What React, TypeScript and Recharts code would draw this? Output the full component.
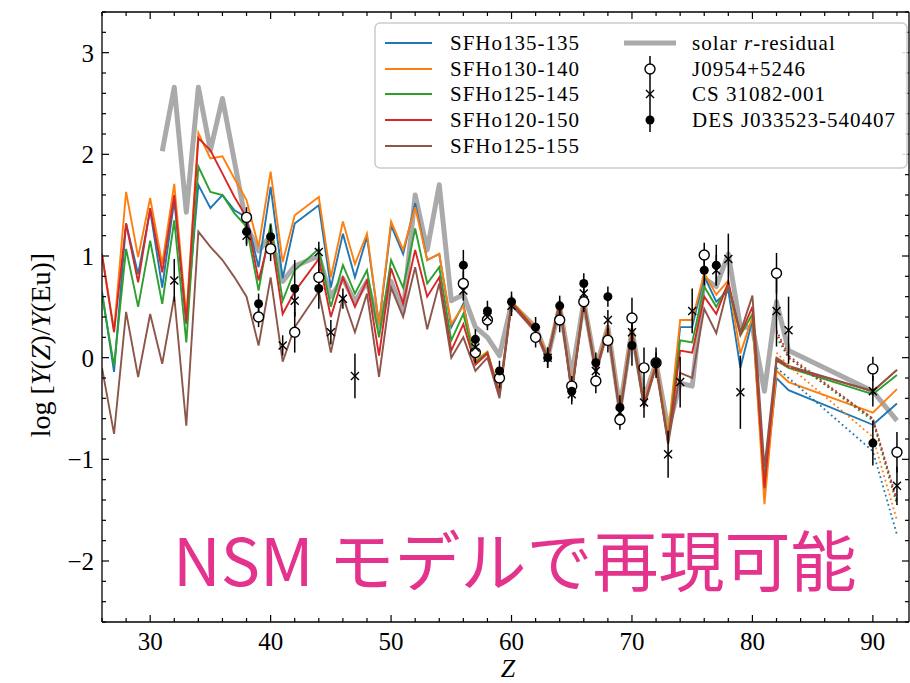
import { ComposedChart, ErrorBar, Line, Scatter, XAxis, YAxis } from "recharts";

const SERIF = "'Liberation Serif', 'DejaVu Serif', serif";
const CJK = "'Noto Sans CJK JP', 'Noto Sans', sans-serif";

// atomic number grid (Tc 43, Pm 61 and 84-89, 91 have no model points)
const Z = [
  26, 27, 28, 29, 30, 31, 32, 33, 34, 35, 36, 37, 38, 39, 40, 41, 42,
  44, 45, 46, 47, 48, 49, 50, 51, 52, 53, 54, 55, 56, 57, 58, 59, 60,
  62, 63, 64, 65, 66, 67, 68, 69, 70, 71, 72, 73, 74, 75, 76, 77, 78, 79, 80, 81, 82, 83,
  90, 92,
];

const SFHO135_135 = [
  0.65, -0.14, 1.32, 0.82, 1.45, 0.69, 1.55, 0.33, 1.7, 1.47, 1.6, 1.45, 1.38, 0.89, 1.68, 0.78, 1.32,
  1.5, 0.69, 1.22, 0.79, 1.19, 0.33, 1.3, 1.02, 1.52, 0.96, 1.02, 0.3, 0.53, -0.05, 0.05, -0.35, 0.54,
  0.28, 0.0, 0.55, -0.33, 0.56, -0.13, 0.3, -0.54, 0.27, -0.46, -0.06, -0.8, 0.3, 0.3, 0.8, 0.55, 0.66, -0.1, 0.37, -1.3, -0.2, -0.32,
  -0.66, -0.45,
];
const SFHO130_140 = [
  1.0, 0.27, 1.63, 0.99, 1.57, 0.92, 1.71, 0.4, 2.21, 1.96, 1.98, 1.76, 1.55, 1.09, 1.83, 0.94, 1.4,
  1.58, 0.79, 1.34, 0.92, 1.22, 0.33, 1.34, 1.06, 1.48, 0.96, 1.02, 0.33, 0.51, -0.03, 0.06, -0.34, 0.56,
  0.29, 0.01, 0.57, -0.31, 0.58, -0.12, 0.32, -0.52, 0.29, -0.44, -0.04, -0.76, 0.37, 0.37, 0.83, 0.62, 0.76, 0.04, 0.4, -1.44, -0.13, -0.24,
  -0.54, -0.31,
];
const SFHO125_145 = [
  0.62, -0.08, 1.07, 0.5, 1.15, 0.53, 1.35, 0.15, 1.88, 1.63, 1.6, 1.42, 1.29, 0.66, 1.32, 0.56, 0.86,
  1.07, 0.5, 0.91, 0.63, 0.86, 0.2, 0.96, 0.69, 1.27, 0.73, 0.89, 0.17, 0.43, -0.05, 0.05, -0.36, 0.55,
  0.27, 0.0, 0.54, -0.34, 0.55, -0.14, 0.29, -0.55, 0.26, -0.47, -0.07, -0.81, 0.17, 0.15, 0.7, 0.5, 0.72, 0.22, 0.43, -1.21, -0.03, -0.1,
  -0.36, -0.17,
];
const SFHO120_150 = [
  1.02, 0.25, 1.32, 0.74, 1.47, 0.84, 1.6, 0.35, 2.16, 2.04, 1.81, 1.58, 1.38, 0.76, 1.22, 0.43, 0.65,
  0.97, 0.4, 0.79, 0.5, 0.76, 0.02, 0.88, 0.53, 1.06, 0.6, 0.79, 0.07, 0.33, -0.07, 0.04, -0.37, 0.54,
  0.27, -0.01, 0.54, -0.34, 0.55, -0.14, 0.29, -0.55, 0.26, -0.47, -0.07, -0.84, 0.07, 0.05, 0.6, 0.43, 0.74, 0.23, 0.5, -1.28, -0.02, -0.09,
  -0.33, -0.12,
];
const SFHO125_155 = [
  -0.1, -0.75, 0.45, -0.19, 0.43, -0.06, 0.6, -0.67, 1.24, 1.09, 0.96, 0.79, 0.6, 0.12, 0.79, -0.04, 0.3,
  0.65, 0.05, 0.6, 0.25, 0.63, -0.19, 0.69, 0.4, 0.89, 0.28, 0.73, 0.0, 0.2, -0.13, 0.0, -0.4, 0.52,
  0.25, -0.03, 0.52, -0.36, 0.53, -0.16, 0.27, -0.57, 0.24, -0.49, -0.09, -0.85, -0.15, -0.2, 0.48, 0.24, 0.71, 0.25, 0.61, -1.08, 0.0, -0.08,
  -0.33, -0.12,
];
const SOLAR = [
  null, null, null, null, null, 2.03, 2.66, 1.43, 2.66, 2.04, 2.55, 1.93, 1.3, 1.05, 1.2, 0.75, 0.9,
  1.0, 0.6, 0.78, 0.55, 0.75, 0.3, 0.75, 0.45, 1.6, 1.06, 1.7, 0.56, 0.62, 0.3, 0.2, 0.02, 0.53,
  0.3, 0.0, 0.5, -0.18, 0.55, -0.1, 0.3, -0.5, 0.27, -0.4, -0.05, -0.7, -0.25, -0.28, 0.78, 0.7, 1.02, 0.3, 0.3, -0.33, 0.55, 0.07,
  -0.33, -0.62,
];

// dotted actinide variants
const DOT_Z = [82, 83, 90, 92];
const DOT135_135 = [-0.1, -0.2, -0.92, -1.74];
const DOT130_140 = [0.05, -0.08, -0.78, -1.6];
const DOT125_145 = [0.2, 0.0, -0.62, -1.45];
const DOT120_150 = [0.25, 0.0, -0.6, -1.42];
const DOT125_155 = [0.27, 0.02, -0.6, -1.4];

const J0954_Z = [38, 39, 40, 42, 44, 56, 57, 58, 59, 62, 64, 65, 66, 67, 68, 69, 70, 71, 72, 76, 82, 90, 92];
const J0954_V = [1.38, 0.4, 1.07, 0.25, 0.79, 0.73, 0.05, 0.37, -0.2, 0.2, 0.37, -0.28, 0.55, -0.23, 0.17, -0.61, 0.39, -0.1, -0.05, 1.01, 0.83, -0.11, -0.93];
const J0954_E = [0.1, 0.1, 0.12, 0.2, 0.15, 0.12, 0.1, 0.1, 0.1, 0.1, 0.12, 0.1, 0.1, 0.12, 0.12, 0.1, 0.2, 0.2, 0.15, 0.12, 0.2, 0.12, 0.2];

const CS_Z = [32, 38, 41, 42, 44, 45, 46, 47, 56, 57, 58, 60, 63, 65, 66, 67, 68, 69, 70, 71, 73, 74, 75, 77, 78, 79, 82, 83, 90, 92];
const CS_V = [0.76, 1.2, 0.12, 0.56, 1.04, 0.25, 0.58, -0.18, 0.66, 0.1, 0.4, 0.51, 0.0, -0.36, 0.63, -0.13, 0.37, -0.54, 0.25, -0.44, -0.95, -0.24, 0.46, 0.86, 0.97, -0.34, 0.46, 0.27, -0.33, -1.26];
const CS_E = [0.21, 0.1, 0.1, 0.15, 0.1, 0.12, 0.1, 0.22, 0.1, 0.1, 0.1, 0.1, 0.1, 0.1, 0.1, 0.1, 0.1, 0.1, 0.1, 0.15, 0.23, 0.25, 0.22, 0.15, 0.25, 0.36, 0.35, 0.33, 0.15, 0.19];

const DES_Z = [38, 39, 40, 42, 44, 56, 57, 58, 59, 60, 62, 63, 64, 65, 66, 67, 68, 69, 70, 72, 76, 77, 90];
const DES_V = [1.24, 0.53, 1.19, 0.68, 0.68, 0.91, 0.18, 0.46, -0.13, 0.55, 0.3, 0.0, 0.51, -0.33, 0.73, -0.05, 0.6, -0.49, 0.12, -0.05, 0.86, 0.91, -0.84];
const DES_E = [0.12, 0.1, 0.12, 0.28, 0.2, 0.15, 0.1, 0.1, 0.1, 0.1, 0.1, 0.1, 0.1, 0.1, 0.1, 0.1, 0.1, 0.12, 0.2, 0.1, 0.15, 0.2, 0.22];

const X_TICKS = [26, 28, 30, 32, 34, 36, 38, 40, 42, 44, 46, 48, 50, 52, 54, 56, 58, 60, 62, 64, 66, 68, 70, 72, 74, 76, 78, 80, 82, 84, 86, 88, 90, 92];
const Y_TICKS = [
  -2.6, -2.4, -2.2, -2, -1.8, -1.6, -1.4, -1.2, -1, -0.8, -0.6, -0.4, -0.2, 0, 0.2, 0.4, 0.6, 0.8,
  1, 1.2, 1.4, 1.6, 1.8, 2, 2.2, 2.4, 2.6, 2.8, 3, 3.2, 3.4,
];

const MODELS = [
  { key: "m1", name: "SFHo135-135", color: "#1f77b4", values: SFHO135_135, dots: DOT135_135 },
  { key: "m2", name: "SFHo130-140", color: "#ff7f0e", values: SFHO130_140, dots: DOT130_140 },
  { key: "m3", name: "SFHo125-145", color: "#2ca02c", values: SFHO125_145, dots: DOT125_145 },
  { key: "m4", name: "SFHo120-150", color: "#d62728", values: SFHO120_150, dots: DOT120_150 },
  { key: "m5", name: "SFHo125-155", color: "#8c564b", values: SFHO125_155, dots: DOT125_155 },
];

const table = Z.map((z, i) => {
  const row: Record<string, number | null> = { z, solar: SOLAR[i] };
  const d = DOT_Z.indexOf(z);
  MODELS.forEach((m) => {
    row[m.key] = m.values[i];
    row[m.key + "d"] = d >= 0 ? m.dots[d] : null;
  });
  return row;
});

const pts = (zs: number[], vs: number[], es: number[]) => zs.map((z, i) => ({ z, v: vs[i], e: es[i] }));

const isInt = (v: number) => Math.abs(v - Math.round(v)) < 1e-6;
const fmt = (v: number) => (v < 0 ? "\u2212" + Math.abs(v) : String(v));

// ticks point inward, like matplotlib's direction="in"
function BottomTick(props: any) {
  const { x, y, payload } = props;
  const major = payload.value % 10 === 0;
  return (
    <g>
      <line x1={x} x2={x} y1={y} y2={y - (major ? 7 : 4)} stroke="#000" strokeWidth={1.2} />
      {major && (
        <text x={x} y={y + 28} textAnchor="middle" fontSize={25} fontFamily={SERIF} fill="#000">
          {payload.value}
        </text>
      )}
    </g>
  );
}

function TopTick(props: any) {
  const { x, y, payload } = props;
  const major = payload.value % 10 === 0;
  return <line x1={x} x2={x} y1={y} y2={y + (major ? 7 : 4)} stroke="#000" strokeWidth={1.2} />;
}

function LeftTick(props: any) {
  const { x, y, payload } = props;
  const major = isInt(payload.value);
  return (
    <g>
      <line x1={x} x2={x + (major ? 7 : 4)} y1={y} y2={y} stroke="#000" strokeWidth={1.2} />
      {major && (
        <text x={x - 8} y={y + 9} textAnchor="end" fontSize={25} fontFamily={SERIF} fill="#000">
          {fmt(payload.value)}
        </text>
      )}
    </g>
  );
}

function RightTick(props: any) {
  const { x, y, payload } = props;
  const major = isInt(payload.value);
  return <line x1={x} x2={x - (major ? 7 : 4)} y1={y} y2={y} stroke="#000" strokeWidth={1.2} />;
}

const OpenMark = (p: any) => <circle cx={p.cx} cy={p.cy} r={5} fill="#fff" stroke="#000" strokeWidth={1.4} />;
const FilledMark = (p: any) => <circle cx={p.cx} cy={p.cy} r={4.5} fill="#000" />;
const CrossMark = (p: any) => (
  <path
    d={`M${p.cx - 4},${p.cy - 4}L${p.cx + 4},${p.cy + 4}M${p.cx - 4},${p.cy + 4}L${p.cx + 4},${p.cy - 4}`}
    stroke="#000"
    strokeWidth={1.4}
    fill="none"
  />
);

const axisLine = { stroke: "#000", strokeWidth: 1.3 };
const ROWS = [43, 69, 94, 120, 146];

export default function App() {
  return (
    <div style={{ position: "absolute", left: 0, top: 0, width: 910, height: 683, background: "#fff" }}>
      <ComposedChart width={910} height={683} data={table} margin={{ top: 2, right: 0, bottom: 31, left: 42 }}>
        <XAxis
          dataKey="z"
          type="number"
          domain={[26, 93]}
          allowDataOverflow
          ticks={X_TICKS}
          interval={0}
          height={30}
          tickSize={0}
          tickMargin={0}
          tickLine={false}
          axisLine={axisLine}
          tick={<BottomTick />}
        />
        <XAxis
          xAxisId="top"
          orientation="top"
          dataKey="z"
          type="number"
          domain={[26, 93]}
          allowDataOverflow
          ticks={X_TICKS}
          interval={0}
          height={10}
          tickSize={0}
          tickMargin={0}
          tickLine={false}
          axisLine={axisLine}
          tick={<TopTick />}
        />
        <YAxis
          type="number"
          domain={[-2.6, 3.4]}
          allowDataOverflow
          ticks={Y_TICKS}
          interval={0}
          width={60}
          tickSize={0}
          tickMargin={0}
          tickLine={false}
          axisLine={axisLine}
          tick={<LeftTick />}
        />
        <YAxis
          yAxisId="right"
          orientation="right"
          type="number"
          domain={[-2.6, 3.4]}
          allowDataOverflow
          ticks={Y_TICKS}
          interval={0}
          width={1}
          tickSize={0}
          tickMargin={0}
          tickLine={false}
          axisLine={axisLine}
          tick={<RightTick />}
        />

        <Line
          dataKey="solar"
          stroke="#aaaaaa"
          strokeWidth={5}
          dot={false}
          activeDot={false}
          isAnimationActive={false}
          strokeLinejoin="round"
        />
        {MODELS.map((m) => (
          <Line
            key={m.key}
            dataKey={m.key}
            stroke={m.color}
            strokeWidth={1.9}
            dot={false}
            activeDot={false}
            isAnimationActive={false}
          />
        ))}
        {MODELS.map((m) => (
          <Line
            key={m.key + "d"}
            dataKey={m.key + "d"}
            stroke={m.color}
            strokeWidth={1.8}
            strokeDasharray="1.8 3"
            dot={false}
            activeDot={false}
            isAnimationActive={false}
          />
        ))}

        <Scatter data={pts(J0954_Z, J0954_V, J0954_E)} dataKey="v" shape={OpenMark} isAnimationActive={false}>
          <ErrorBar dataKey="e" direction="y" width={0} stroke="#000" strokeWidth={1.5} />
        </Scatter>
        <Scatter data={pts(CS_Z, CS_V, CS_E)} dataKey="v" shape={CrossMark} isAnimationActive={false}>
          <ErrorBar dataKey="e" direction="y" width={0} stroke="#000" strokeWidth={1.5} />
        </Scatter>
        <Scatter data={pts(DES_Z, DES_V, DES_E)} dataKey="v" shape={FilledMark} isAnimationActive={false}>
          <ErrorBar dataKey="e" direction="y" width={0} stroke="#000" strokeWidth={1.5} />
        </Scatter>
      </ComposedChart>

      <svg width={910} height={683} style={{ position: "absolute", left: 0, top: 0, pointerEvents: "none" }}>
        {/* legend */}
        <rect x={375} y={23} width={532} height={145} rx={5} fill="#fff" fillOpacity={0.85} stroke="#cccccc" strokeWidth={1.5} />
        {MODELS.map((m, i) => (
          <g key={m.key}>
            <line x1={385} x2={432} y1={ROWS[i]} y2={ROWS[i]} stroke={m.color} strokeWidth={1.8} />
            <text x={450} y={ROWS[i] + 7} fontSize={21} letterSpacing={1} fontFamily={SERIF} fill="#000">
              {m.name}
            </text>
          </g>
        ))}
        <line x1={624} x2={676} y1={ROWS[0]} y2={ROWS[0]} stroke="#aaaaaa" strokeWidth={5} />
        <text x={692} y={ROWS[0] + 7} fontSize={21} letterSpacing={1} fontFamily={SERIF} fill="#000">
          solar <tspan fontStyle="italic">r</tspan>-residual
        </text>
        <line x1={650} x2={650} y1={56} y2={132} stroke="#000" strokeWidth={1.5} />
        <OpenMark cx={650} cy={ROWS[1]} />
        <CrossMark cx={650} cy={ROWS[2]} />
        <FilledMark cx={650} cy={ROWS[3]} />
        {["J0954+5246", "CS 31082-001", "DES J033523-540407"].map((t, i) => (
          <text key={t} x={692} y={ROWS[i + 1] + 7} fontSize={21} letterSpacing={1} fontFamily={SERIF} fill="#000">
            {t}
          </text>
        ))}

        {/* axis labels */}
        <text transform="rotate(-90)" x={-345} y={50} textAnchor="middle" fontSize={28} fontFamily={SERIF} fill="#000">
          log [<tspan fontStyle="italic">Y</tspan>(<tspan fontStyle="italic">Z</tspan>)/<tspan fontStyle="italic">Y</tspan>(Eu)]
        </text>
        <text x={508} y={677} textAnchor="middle" fontSize={26} fontStyle="italic" fontFamily={SERIF} fill="#000">
          Z
        </text>

        <text x={173} y={586} fontSize={66} fontFamily={CJK} fill="#e4338c">
          NSM モデルで再現可能
        </text>
      </svg>
    </div>
  );
}
